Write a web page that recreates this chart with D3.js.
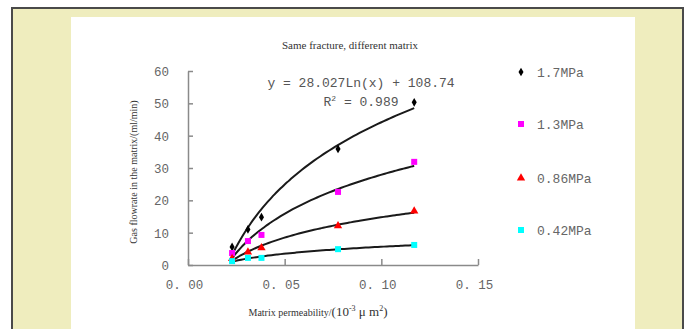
<!DOCTYPE html>
<html>
<head>
<meta charset="utf-8">
<script src="https://cdn.jsdelivr.net/npm/d3@7"></script>
<style>
  html, body { margin: 0; padding: 0; background: #fff; }
  svg { display: block; }
</style>
</head>
<body>
<svg id="chart" width="688" height="329"></svg>
<script>
// Matrix permeability (10^-3 μm^2) for each measured sample
const permeability = [0.0228, 0.031, 0.038, 0.0776, 0.117];

// Gas flowrate in the matrix (ml/min) at each fracture pressure
const series = [
  { name: "1.7MPa",  color: "#000000", shape: "diamond",  values: [5.6, 11.0, 14.8, 35.9, 50.3] },
  { name: "1.3MPa",  color: "#ff00ff", shape: "square",   values: [3.7, 7.4, 9.3, 22.6, 31.9] },
  { name: "0.86MPa", color: "#ff0000", shape: "triangle", values: [2.0, 4.0, 5.3, 12.1, 16.7] },
  { name: "0.42MPa", color: "#00ffff", shape: "square",   values: [1.2, 2.2, 2.2, 4.9, 6.2] }
];

const xTicks = [0, 0.05, 0.10, 0.15];
const yTicks = [0, 10, 20, 30, 40, 50, 60];

const titleText = "Same fracture, different matrix";
const equationText = "y = 28.027Ln(x) + 108.74";
const r2Text = "0.989";

const svg = d3.select("#chart");

// page frame
svg.append("rect").attr("x", 0).attr("y", 0).attr("width", 688).attr("height", 329).attr("fill", "#fff");
svg.append("rect").attr("x", 12).attr("y", 8).attr("width", 671).attr("height", 330)
  .attr("fill", "#efedbe").attr("stroke", "#4a4a4a").attr("stroke-width", 2);
svg.append("rect").attr("x", 71).attr("y", 17).attr("width", 564).attr("height", 320).attr("fill", "#fff");

const x = d3.scaleLinear().domain([0, 0.15]).range([188, 478]);
const y = d3.scaleLinear().domain([0, 60]).range([265, 71]);

const axisColor = "#8a8a8a";
const monoFont = "'Liberation Mono', 'DejaVu Sans Mono', monospace";
const serifFont = "'Liberation Serif', 'DejaVu Serif', serif";

// axes (ticks drawn inward)
const gx = svg.append("g").attr("transform", `translate(0,${y(0)})`)
  .call(d3.axisBottom(x).tickValues(xTicks).tickSizeInner(-6).tickSizeOuter(0)
    .tickFormat(d => d3.format(".2f")(d).replace(".", ". ")));
const gy = svg.append("g").attr("transform", `translate(${x(0)},0)`)
  .call(d3.axisLeft(y).tickValues(yTicks).tickSizeInner(-5).tickSizeOuter(0));

[gx, gy].forEach(g => {
  g.select(".domain").attr("stroke", axisColor).attr("stroke-width", 1.5);
  g.selectAll(".tick line").attr("stroke", axisColor).attr("stroke-width", 1.5);
  g.selectAll(".tick text").attr("fill", "#666").attr("font-family", monoFont).attr("font-size", 12.5);
});
gx.selectAll(".tick text").attr("dy", "1.7em").attr("dx", -4);
gy.selectAll(".tick text").attr("x", -19).attr("dy", "0.35em");

// logarithmic trend lines: y = a ln(x) + b, least squares on the measured points
function logFit(xs, ys) {
  const lx = xs.map(Math.log);
  const mx = d3.mean(lx), my = d3.mean(ys);
  const a = d3.sum(lx, (v, i) => (v - mx) * (ys[i] - my)) / d3.sum(lx, v => (v - mx) * (v - mx));
  return { a, b: my - a * mx };
}

const line = d3.line().x(d => x(d[0])).y(d => y(d[1])).curve(d3.curveMonotoneX);
const xMin = d3.min(permeability), xMax = d3.max(permeability);
series.forEach(s => {
  const f = logFit(permeability, s.values);
  const pts = d3.range(0, 61).map(i => {
    const xv = xMin + (xMax - xMin) * i / 60;
    return [xv, f.a * Math.log(xv) + f.b];
  });
  svg.append("path").datum(pts).attr("d", line)
    .attr("fill", "none").attr("stroke", "#1a1a1a").attr("stroke-width", 2);
});

// markers
function marker(sel, shape, color, cx, cy) {
  if (shape === "diamond") {
    sel.append("path").attr("d", d3.symbol(d3.symbolDiamond, 22)())
      .attr("transform", `translate(${cx},${cy})`).attr("fill", color);
  } else if (shape === "triangle") {
    sel.append("path").attr("d", d3.symbol(d3.symbolTriangle, 30)())
      .attr("transform", `translate(${cx},${cy})`).attr("fill", color);
  } else {
    sel.append("rect").attr("x", cx - 3).attr("y", cy - 3).attr("width", 6).attr("height", 6).attr("fill", color);
  }
}

const gm = svg.append("g");
series.forEach(s => {
  s.values.forEach((v, i) => marker(gm, s.shape, s.color, x(permeability[i]), y(v)));
});

// legend
const legendY = [72, 124, 178, 230];
series.forEach((s, i) => {
  marker(svg, s.shape, s.color, 521, legendY[i]);
  svg.append("text").attr("x", 537).attr("y", legendY[i]).attr("dy", "0.35em")
    .attr("font-family", monoFont).attr("font-size", 13).attr("fill", "#666").text(s.name);
});

// title
svg.append("text").attr("x", 350).attr("y", 49).attr("text-anchor", "middle")
  .attr("font-family", serifFont).attr("font-size", 11).attr("fill", "#333").text(titleText);

// regression label
svg.append("text").attr("x", 361).attr("y", 87).attr("text-anchor", "middle")
  .attr("font-family", monoFont).attr("font-size", 13).attr("fill", "#555").text(equationText);
const r2 = svg.append("text").attr("x", 361).attr("y", 106).attr("text-anchor", "middle")
  .attr("font-family", monoFont).attr("font-size", 13).attr("fill", "#555");
r2.append("tspan").text("R");
r2.append("tspan").attr("dy", -5).attr("font-size", 8).text("2");
r2.append("tspan").attr("dy", 5).text(" = " + r2Text);

// axis titles
const xt = svg.append("text").attr("x", 318).attr("y", 316).attr("text-anchor", "middle")
  .attr("font-family", serifFont).attr("fill", "#333");
xt.append("tspan").attr("font-size", 10).text("Matrix permeability/");
xt.append("tspan").attr("font-size", 13).text("(10");
xt.append("tspan").attr("font-size", 8).attr("dy", -5).text("-3");
xt.append("tspan").attr("font-size", 13).attr("dy", 5).text(" μ m");
xt.append("tspan").attr("font-size", 8).attr("dy", -5).text("2");
xt.append("tspan").attr("font-size", 13).attr("dy", 5).text(")");

svg.append("text").attr("transform", "translate(137,172) rotate(-90)").attr("text-anchor", "middle")
  .attr("font-family", serifFont).attr("font-size", 10).attr("fill", "#333")
  .text("Gas flowrate in the matrix/(ml/min)");
</script>
</body>
</html>
